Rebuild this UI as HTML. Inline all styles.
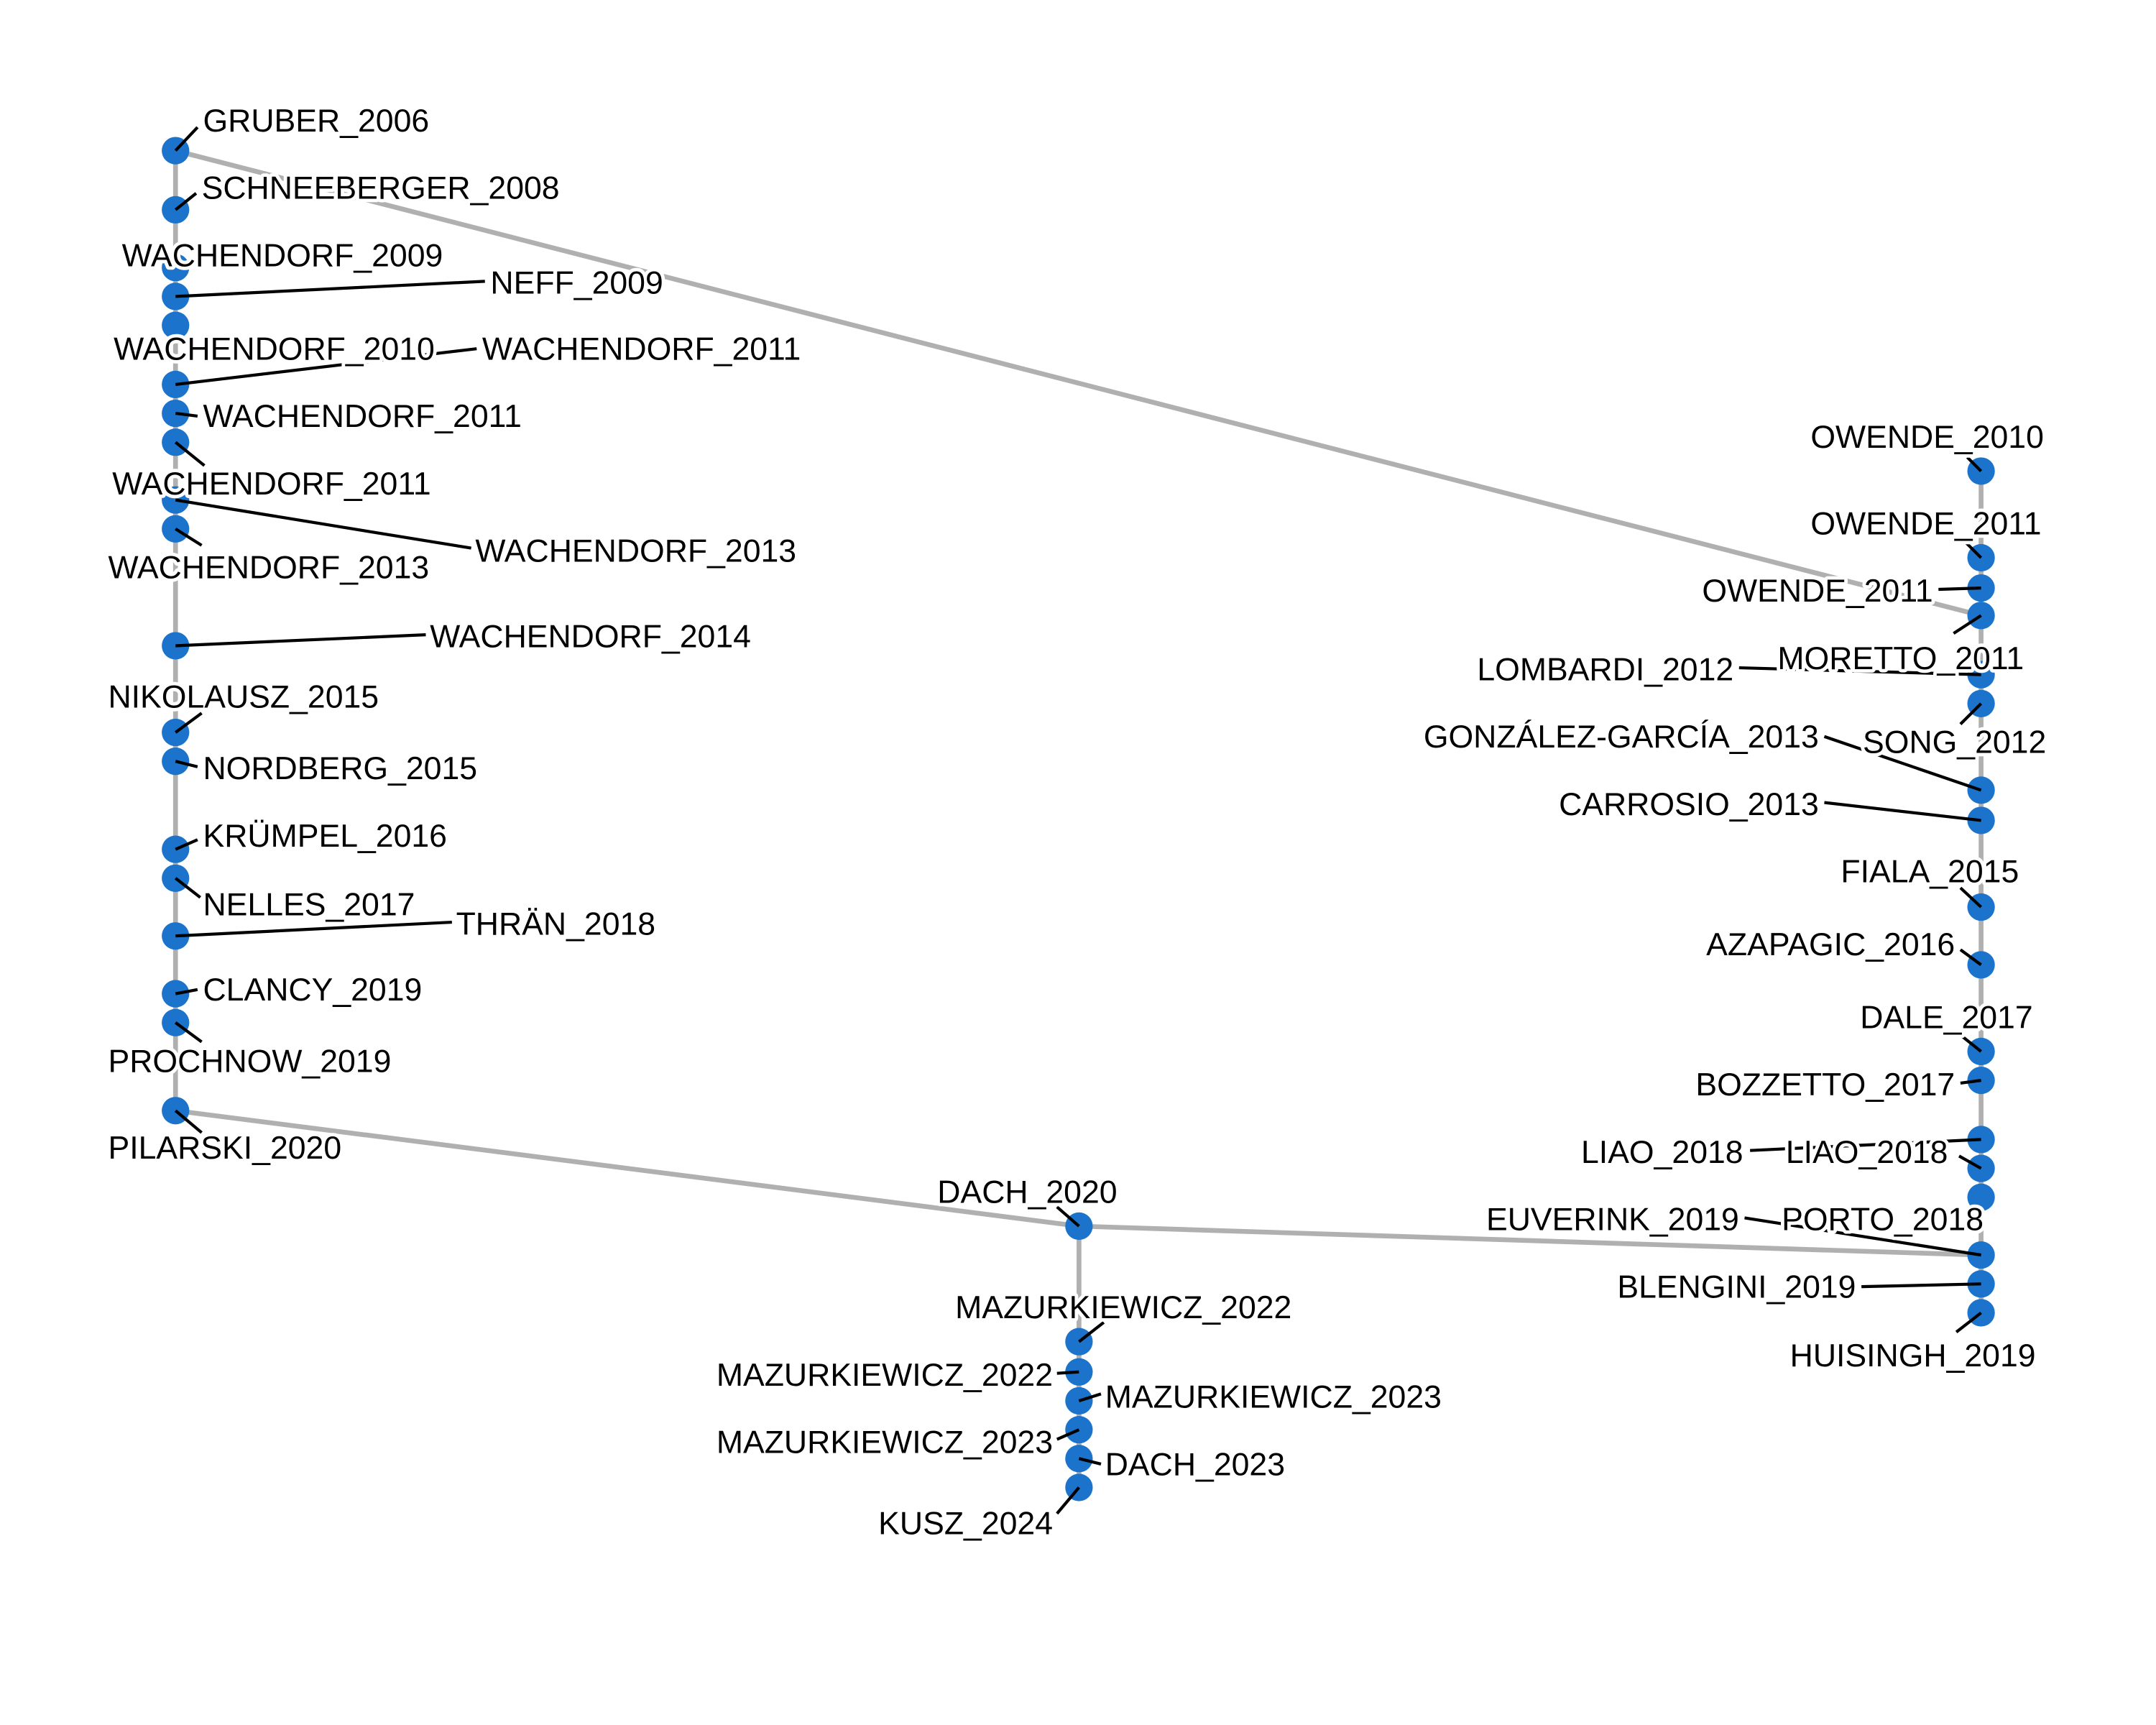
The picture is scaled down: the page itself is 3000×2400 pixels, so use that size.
<!DOCTYPE html>
<html><head><meta charset="utf-8"><style>
html,body{margin:0;padding:0;background:#fff}
svg{display:block}
text{font-family:"Liberation Sans",sans-serif;font-size:23.3px;fill:#000;stroke:#fff;stroke-width:5px;paint-order:stroke;stroke-linejoin:round}
.e{stroke:#b0b0b0;stroke-width:3.5;fill:none}
.l{stroke:#000;stroke-width:2.2}
circle{fill:#1b73cc}
.r{text-anchor:end}
</style></head><body>
<svg width="3000" height="2400" viewBox="0 0 1560 1248" xmlns="http://www.w3.org/2000/svg">
<rect width="1560" height="1248" fill="#fff"/>
<g transform="translate(127,109) scale(0.995) translate(-127,-109)">
<line class="e" x1="127" y1="109" x2="127" y2="807"/>
<line class="e" x1="127" y1="109" x2="1440" y2="447"/>
<line class="e" x1="127" y1="807" x2="784" y2="891"/>
<line class="e" x1="784" y1="891" x2="1440" y2="912"/>
<line class="e" x1="784" y1="891" x2="784" y2="1081"/>
<line class="e" x1="1440" y1="342" x2="1440" y2="954"/>
<g>
<circle cx="127" cy="109" r="10"/><circle cx="127" cy="152" r="10"/><circle cx="127" cy="194" r="10"/><circle cx="127" cy="215" r="10"/><circle cx="127" cy="236" r="10"/><circle cx="127" cy="279" r="10"/><circle cx="127" cy="300" r="10"/><circle cx="127" cy="321" r="10"/><circle cx="127" cy="363" r="10"/><circle cx="127" cy="384" r="10"/><circle cx="127" cy="469" r="10"/><circle cx="127" cy="532" r="10"/><circle cx="127" cy="553" r="10"/><circle cx="127" cy="617" r="10"/><circle cx="127" cy="638" r="10"/><circle cx="127" cy="680" r="10"/><circle cx="127" cy="722" r="10"/><circle cx="127" cy="743" r="10"/><circle cx="127" cy="807" r="10"/>
<circle cx="784" cy="891" r="10"/><circle cx="784" cy="975" r="10"/><circle cx="784" cy="997" r="10"/><circle cx="784" cy="1018" r="10"/><circle cx="784" cy="1039" r="10"/><circle cx="784" cy="1060" r="10"/><circle cx="784" cy="1081" r="10"/>
<circle cx="1440" cy="342" r="10"/><circle cx="1440" cy="405" r="10"/><circle cx="1440" cy="427" r="10"/><circle cx="1440" cy="447" r="10"/><circle cx="1440" cy="490" r="10"/><circle cx="1440" cy="511" r="10"/><circle cx="1440" cy="574" r="10"/><circle cx="1440" cy="596" r="10"/><circle cx="1440" cy="659" r="10"/><circle cx="1440" cy="701" r="10"/><circle cx="1440" cy="764" r="10"/><circle cx="1440" cy="785" r="10"/><circle cx="1440" cy="828" r="10"/><circle cx="1440" cy="849" r="10"/><circle cx="1440" cy="870" r="10"/><circle cx="1440" cy="912" r="10"/><circle cx="1440" cy="933" r="10"/><circle cx="1440" cy="954" r="10"/>
</g>
<g class="l">
<line x1="127" y1="109" x2="143" y2="92"/>
<line x1="127" y1="152" x2="142" y2="140"/>
<line x1="127" y1="215" x2="352" y2="204"/>
<line x1="127" y1="279" x2="346" y2="253"/>
<line x1="127" y1="300" x2="143" y2="302"/>
<line x1="127" y1="321" x2="148" y2="338"/>
<line x1="127" y1="363" x2="342" y2="398"/>
<line x1="127" y1="384" x2="146" y2="396"/>
<line x1="127" y1="469" x2="309" y2="461"/>
<line x1="127" y1="532" x2="146" y2="518"/>
<line x1="127" y1="553" x2="143" y2="557"/>
<line x1="127" y1="617" x2="143" y2="610"/>
<line x1="127" y1="638" x2="145" y2="652"/>
<line x1="127" y1="680" x2="328" y2="670"/>
<line x1="127" y1="722" x2="143" y2="719"/>
<line x1="127" y1="743" x2="146" y2="757"/>
<line x1="127" y1="807" x2="146" y2="823"/>
<line x1="784" y1="891" x2="768" y2="877"/>
<line x1="784" y1="975" x2="802" y2="961"/>
<line x1="784" y1="997" x2="768" y2="998"/>
<line x1="784" y1="1018" x2="800" y2="1013"/>
<line x1="784" y1="1039" x2="768" y2="1046"/>
<line x1="784" y1="1060" x2="800" y2="1064"/>
<line x1="784" y1="1081" x2="768" y2="1100"/>
<line x1="1440" y1="342" x2="1430" y2="332"/>
<line x1="1440" y1="405" x2="1427" y2="392"/>
<line x1="1440" y1="427" x2="1409" y2="428"/>
<line x1="1440" y1="447" x2="1420" y2="460"/>
<line x1="1440" y1="490" x2="1264" y2="485"/>
<line x1="1440" y1="511" x2="1425" y2="526"/>
<line x1="1440" y1="574" x2="1326" y2="535"/>
<line x1="1440" y1="596" x2="1326" y2="583"/>
<line x1="1440" y1="659" x2="1425" y2="645"/>
<line x1="1440" y1="701" x2="1425" y2="690"/>
<line x1="1440" y1="764" x2="1425" y2="752"/>
<line x1="1440" y1="785" x2="1425" y2="787"/>
<line x1="1440" y1="828" x2="1272" y2="836"/>
<line x1="1440" y1="849" x2="1424" y2="840"/>
<line x1="1440" y1="912" x2="1268" y2="885"/>
<line x1="1440" y1="933" x2="1353" y2="935"/>
<line x1="1440" y1="954" x2="1422" y2="968"/>
</g>
<g>
<text x="147" y="95">GRUBER_2006</text>
<text x="146" y="144">SCHNEEBERGER_2008</text>
<text x="88" y="193">WACHENDORF_2009</text>
<text x="356" y="213">NEFF_2009</text>
<text x="82" y="261">WACHENDORF_2010</text>
<text x="350" y="261">WACHENDORF_2011</text>
<text x="147" y="310">WACHENDORF_2011</text>
<text x="81" y="359">WACHENDORF_2011</text>
<text x="345" y="408">WACHENDORF_2013</text>
<text x="78" y="420">WACHENDORF_2013</text>
<text x="312" y="470">WACHENDORF_2014</text>
<text x="78" y="514">NIKOLAUSZ_2015</text>
<text x="147" y="566">NORDBERG_2015</text>
<text x="147" y="615">KRÜMPEL_2016</text>
<text x="147" y="665">NELLES_2017</text>
<text x="331" y="679">THRÄN_2018</text>
<text x="147" y="727">CLANCY_2019</text>
<text x="78" y="779">PROCHNOW_2019</text>
<text x="78" y="842">PILARSKI_2020</text>
<text x="681" y="874">DACH_2020</text>
<text x="694" y="958">MAZURKIEWICZ_2022</text>
<text class="r" x="765" y="1007">MAZURKIEWICZ_2022</text>
<text x="803" y="1023">MAZURKIEWICZ_2023</text>
<text class="r" x="765" y="1056">MAZURKIEWICZ_2023</text>
<text x="803" y="1072">DACH_2023</text>
<text class="r" x="765" y="1115">KUSZ_2024</text>
<text x="1316" y="325">OWENDE_2010</text>
<text x="1316" y="388">OWENDE_2011</text>
<text class="r" x="1405" y="437">OWENDE_2011</text>
<text x="1292" y="486">MORETTO_2011</text>
<text class="r" x="1260" y="494">LOMBARDI_2012</text>
<text x="1354" y="547">SONG_2012</text>
<text class="r" x="1322" y="543">GONZÁLEZ-GARCÍA_2013</text>
<text class="r" x="1322" y="592">CARROSIO_2013</text>
<text x="1338" y="641">FIALA_2015</text>
<text class="r" x="1421" y="694">AZAPAGIC_2016</text>
<text x="1352" y="747">DALE_2017</text>
<text class="r" x="1421" y="796">BOZZETTO_2017</text>
<text class="r" x="1267" y="845">LIAO_2018</text>
<text x="1298" y="845">LIAO_2018</text>
<text class="r" x="1264" y="894">EUVERINK_2019</text>
<text x="1295" y="894">PORTO_2018</text>
<text class="r" x="1349" y="943">BLENGINI_2019</text>
<text x="1301" y="993">HUISINGH_2019</text>
</g>
</g>
</svg>
</body></html>
